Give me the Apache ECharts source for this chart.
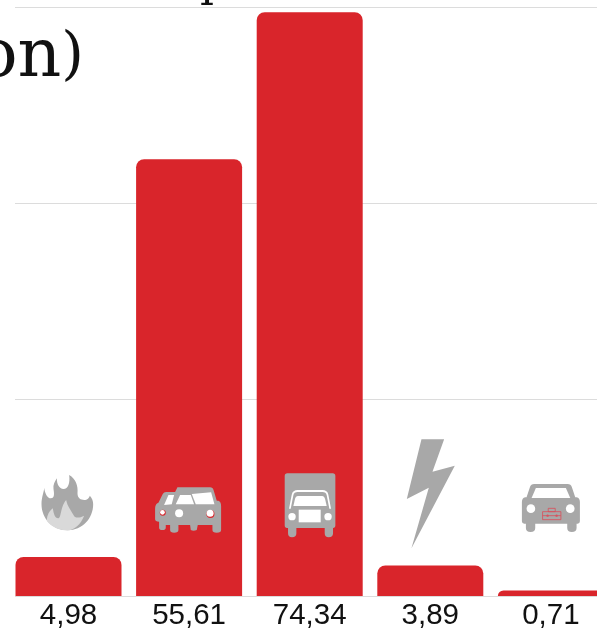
<!DOCTYPE html>
<html>
<head>
<meta charset="utf-8">
<style>
  html, body { margin: 0; padding: 0; background: #fff; overflow: hidden; }
  #main { width: 597px; height: 628px; }
</style>
</head>
<body>
<div id="main"></div>
<script src="https://cdn.jsdelivr.net/npm/echarts@6/dist/echarts.min.js"></script>
<script>
var categories = ['4,98', '55,61', '74,34', '3,89', '0,71'];
var values = [4.98, 55.61, 74.34, 3.89, 0.71];
var iconNames = ['fire', 'cars', 'truck', 'bolt', 'taxi'];

var GRAY = '#a8a8a8', WHITE = '#fff', RED = '#d9252b';

// paths are traced at 3x, dx/dy move the icon from category centre / axis zero
function p(d, fill) {
    return {
        type: 'path',
        // the two moves pin the bounding box so layout cover keeps the coordinates
        shape: { pathData: 'M0 0M400 400' + d, layout: 'cover', x: 0, y: 0, width: 400, height: 400 },
        style: { fill: fill }
    };
}
function c(x, y, r, fill) {
    return { type: 'circle', shape: { cx: x, cy: y, r: r }, style: { fill: fill } };
}
function r(x, y, w, h, stroke) {
    return { type: 'rect', shape: { x: x, y: y, width: w, height: h }, style: { fill: 'none', stroke: stroke, lineWidth: 2.5 } };
}

var icons = {
    fire: { dx: -41, dy: -131, parts: [
        p('M120 196C75 196 42 160 42 118C42 95 50 80 50 68C52 85 60 100 70 100C82 100 80 85 78 72C76 60 82 50 88 40C88 58 95 72 108 72C122 72 128 55 125 30C145 42 152 62 150 85C150 100 160 105 170 105C180 105 185 98 187 92C194 100 197 108 197 118C197 160 165 196 120 196Z', GRAY),
        p('M120 196C95 196 72 186 58 168C58 150 66 138 76 130C78 145 82 160 92 160C102 160 98 125 116 105C120 125 130 135 138 150C142 160 155 160 170 152C160 178 140 196 120 196Z', '#d9d9d9')
    ] },
    cars: { dx: -39, dy: -116, parts: [
        p('M48 36L75 36L82 22L180 22Q188 22 191 32L200 62L205 62Q213 65 213 78L213 150Q213 158 200 158Q187 158 187 150L187 135L143 135L140 150Q130 155 122 150L120 135L85 135L85 150Q85 158 72 158Q60 158 60 150L60 135L47 135L47 143Q47 150 37 150Q27 150 27 143L27 125Q15 125 15 118L15 85Q15 72 25 68L38 42Q41 36 48 36Z', GRAY),
        p('M42 75L55 45L72 45L65 73Z', WHITE),
        p('M77 73L90 45L122 45L132 73Z', WHITE),
        p('M125 42L183 37L193 73L137 73Z', WHITE),
        c(87, 100, 12, WHITE),
        c(181, 102, 12, RED), c(180, 100, 10.5, WHITE),
        c(38, 98, 9, RED), c(37, 97, 7, WHITE)
    ] },
    truck: { dx: -30, dy: -128, parts: [
        p('M23 16L159 16Q167 16 167 24L167 172Q167 180 160 180L160 196Q160 208 147 208Q135 208 135 196L135 180L50 180L50 196Q50 208 37 208Q25 208 25 196L25 180L22 180Q15 180 15 172L15 24Q15 16 23 16Z', GRAY),
        p('M28 122L36 80Q39 66 54 66L128 66Q143 66 146 80L154 122L149 122L141 82Q139 72 128 72L54 72Q43 72 41 82L33 122Z', WHITE),
        p('M54 84L128 84Q134 84 136 92L141 114L41 114L46 92Q48 84 54 84Z', WHITE),
        c(37, 146, 11, WHITE), c(145, 146, 11, WHITE),
        { type: 'rect', shape: { x: 57, y: 125, width: 66, height: 38 }, style: { fill: WHITE } }
    ] },
    bolt: { dx: -70.5, dy: -176, parts: [
        p('M185 58L253 58L218 155L285 137L155 385L207 203L141 237Z', GRAY)
    ] },
    taxi: { dx: -35, dy: -118, parts: [
        p('M55 18L155 18Q165 18 168 28L178 58L182 58Q192 60 192 72L192 130Q192 137 185 137L182 137L182 150Q182 162 168 162Q154 162 154 150L154 137L58 137L58 150Q58 162 44 162Q30 162 30 150L30 137L25 137Q18 137 18 130L18 72Q18 60 28 58L32 58L42 28Q45 18 55 18Z', GRAY),
        p('M60 30L150 30L163 60L47 60Z', WHITE),
        c(45, 92, 13, WHITE), c(163, 92, 13, WHITE),
        r(80, 101, 55, 24, '#d9515c'), r(97, 91, 21, 10, '#d9515c'),
        { type: 'line', shape: { x1: 80, y1: 113, x2: 135, y2: 113 }, style: { stroke: '#d9515c', lineWidth: 2.5 } },
        c(95, 113, 3.5, '#d9515c'), c(122, 113, 3.5, '#d9515c')
    ] }
};

var chart = echarts.init(document.getElementById('main'));

function renderIcon(params, api) {
    var icon = icons[iconNames[api.value(0)]];
    var pos = api.coord([api.value(0), 0]);
    return {
        type: 'group',
        x: pos[0] + icon.dx,
        y: pos[1] + icon.dy,
        scaleX: 1 / 3,
        scaleY: 1 / 3,
        children: icon.parts
    };
}

chart.setOption({
    animation: false,
    backgroundColor: '#fff',
    grid: [
        { left: 8.2, width: 603, top: 7, height: 589, outerBoundsMode: 'none' },
        // second grid only carries the gridlines, they start further in than the bars
        { left: 15, right: 0, top: 7, height: 589, outerBoundsMode: 'none' }
    ],
    xAxis: [
        {
            type: 'category',
            data: categories,
            axisLine: { show: false },
            axisTick: { show: false },
            axisLabel: { interval: 0, margin: 5, color: '#111', fontFamily: 'Liberation Sans', fontSize: 29.5 }
        },
        { type: 'value', gridIndex: 1, min: 0, max: 1, show: false }
    ],
    yAxis: [
        { type: 'value', min: 0, max: 75, show: false },
        {
            type: 'value',
            gridIndex: 1,
            min: 0,
            max: 75,
            interval: 25,
            axisLine: { show: false },
            axisTick: { show: false },
            axisLabel: { show: false },
            splitLine: { lineStyle: { color: '#dcdcdc', width: 1 } }
        }
    ],
    series: [
        {
            type: 'bar',
            data: values,
            barWidth: 106,
            itemStyle: { color: RED, borderRadius: [8, 8, 0, 0] }
        },
        {
            type: 'custom',
            data: iconNames.map(function (name, i) { return [i]; }),
            encode: { x: 0 },
            renderItem: renderIcon,
            silent: true,
            z: 5
        }
    ],
    graphic: [
        {
            type: 'text',
            x: 84,
            y: 24,
            style: {
                text: '{a|on}{b|)}',
                align: 'right',
                verticalAlign: 'top',
                fill: '#111',
                rich: {
                    a: { font: '68px "DejaVu Serif"', fill: '#111' },
                    b: { font: '58px "DejaVu Serif"', fill: '#111' }
                }
            }
        },
        {
            type: 'text',
            x: 200,
            y: -37,
            style: {
                text: 'p',
                align: 'left',
                verticalAlign: 'top',
                fill: '#111',
                font: '44px "DejaVu Serif"'
            }
        }
    ]
});
</script>
</body>
</html>
